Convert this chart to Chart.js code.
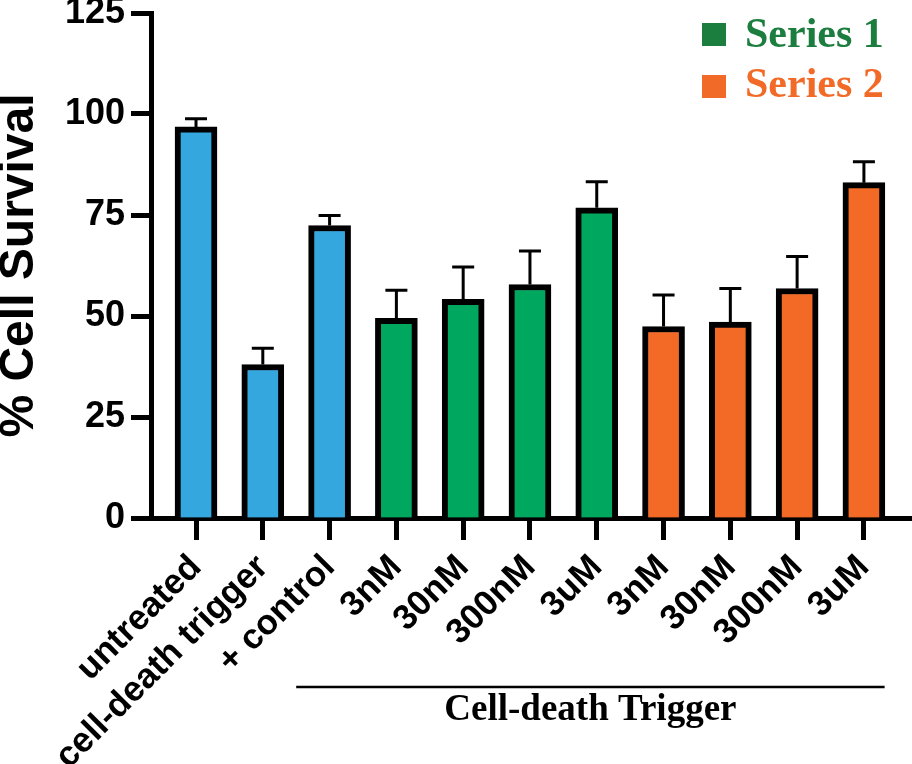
<!DOCTYPE html>
<html><head><meta charset="utf-8">
<script src="https://cdn.jsdelivr.net/npm/chart.js@4.4.1/dist/chart.umd.min.js"></script>
<style>html,body{margin:0;padding:0;background:#fff;} canvas{display:block;}</style>
</head><body>
<canvas id="c" width="912" height="764"></canvas>
<script>
// ---- data ----
const categories = ['untreated', 'cell-death trigger', '+ control', '3nM', '30nM', '300nM', '3uM', '3nM', '30nM', '300nM', '3uM'];
const groups = ['control', 'control', 'control', 'series1', 'series1', 'series1', 'series1', 'series2', 'series2', 'series2', 'series2'];
const survival = [96.8, 38.0, 72.4, 49.4, 54.1, 57.8, 76.8, 47.4, 48.5, 56.8, 83.0];
const errors = [2.0, 4.0, 2.5, 7.0, 8.0, 8.3, 6.4, 7.8, 8.3, 7.9, 5.2];
const yTicks = [0, 25, 50, 75, 100, 125];
const legendLabels = ['Series 1', 'Series 2'];
const groupTitle = 'Cell-death Trigger';
const yTitle = '% Cell Survival';

// ---- styles ----
const barColors = { control: '#35A7DF', series1: '#00A85F', series2: '#F26A25' };
const legendColors = ['#1B7D3E', '#F26A27'];
const SANS = "'Liberation Sans', Arial, Helvetica, sans-serif";
const SERIF = "'Liberation Serif', 'Times New Roman', Times, serif";

const errorBarPlugin = {
  id: 'errorBars',
  afterDatasetsDraw(chart) {
    const { ctx, scales: { x, y } } = chart;
    ctx.save();
    ctx.strokeStyle = '#000';
    ctx.lineWidth = 3;
    ctx.lineCap = 'butt';
    survival.forEach((v, i) => {
      const px = x.getPixelForValue(i);
      const yb = y.getPixelForValue(v);
      const yt = y.getPixelForValue(v + errors[i]);
      ctx.beginPath();
      ctx.moveTo(px, yb);
      ctx.lineTo(px, yt);
      ctx.moveTo(px - 11, yt);
      ctx.lineTo(px + 11, yt);
      ctx.stroke();
    });
    ctx.restore();
  }
};

const decorPlugin = {
  id: 'decor',
  afterDraw(chart) {
    const { ctx, scales: { x } } = chart;
    ctx.save();
    // legend
    ctx.font = 'bold 42px ' + SERIF;
    ctx.textBaseline = 'alphabetic';
    ctx.textAlign = 'left';
    const rows = [{ sq: 23, base: 47 }, { sq: 75, base: 97 }];
    legendLabels.forEach((t, i) => {
      ctx.fillStyle = legendColors[i];
      ctx.fillRect(702, rows[i].sq, 24, 23);
      ctx.fillText(t, 745, rows[i].base);
    });
    // group bracket
    const x0 = x.getPixelForValue(1.5);
    const x1 = x.getPixelForValue(10.31);
    ctx.strokeStyle = '#000';
    ctx.lineWidth = 2.5;
    ctx.beginPath();
    ctx.moveTo(x0, 687);
    ctx.lineTo(x1, 687);
    ctx.stroke();
    ctx.fillStyle = '#000';
    ctx.font = 'bold 37px ' + SERIF;
    ctx.textAlign = 'center';
    ctx.fillText(groupTitle, (x0 + x1) / 2, 720);
    ctx.restore();
  }
};

new Chart(document.getElementById('c'), {
  type: 'bar',
  data: {
    datasets: [{
      data: survival.map((v, i) => ({ x: i, y: v })),
      backgroundColor: groups.map(g => barColors[g]),
      borderColor: '#000',
      borderWidth: 6,
      barThickness: 42,
      borderSkipped: 'start'
    }]
  },
  options: {
    responsive: false,
    animation: false,
    events: [],
    layout: { padding: { top: 13, left: 0, right: 0, bottom: 0 } },
    plugins: { legend: { display: false }, tooltip: { enabled: false } },
    scales: {
      x: {
        type: 'linear',
        min: -0.674,
        max: 10.72,
        offset: false,
        afterBuildTicks(s) { s.ticks = categories.map((_, i) => ({ value: i })); },
        afterFit(s) { s.height = 764 - 518; s.paddingLeft = 0; s.paddingRight = 0; },
        border: { display: true, color: '#000', width: 5 },
        grid: { display: true, offset: false, drawOnChartArea: false, drawTicks: true, tickLength: 22, tickWidth: 5, tickColor: '#000' },
        ticks: {
          autoSkip: false,
          maxRotation: 45,
          minRotation: 45,
          padding: 7,
          color: '#000',
          font: { family: SANS, size: 35, weight: 'bold' },
          callback: (v) => categories[v]
        }
      },
      y: {
        min: 0,
        max: 125,
        afterBuildTicks(s) { s.ticks = yTicks.map(v => ({ value: v })); },
        afterFit(s) { s.width = 151; s.paddingTop = 0; s.paddingBottom = 0; },
        border: { display: true, color: '#000', width: 5 },
        grid: { display: true, drawOnChartArea: false, drawTicks: true, tickLength: 20, tickWidth: 5, tickColor: '#000' },
        ticks: {
          padding: 6,
          color: '#000',
          font: { family: SANS, size: 36, weight: 'bold', lineHeight: '26px' }
        },
        title: {
          display: true,
          text: yTitle,
          color: '#000',
          padding: 0,
          font: { family: SANS, size: 48, weight: 'bold', lineHeight: '40px' }
        }
      }
    }
  },
  plugins: [errorBarPlugin, decorPlugin]
});
</script>
</body></html>
